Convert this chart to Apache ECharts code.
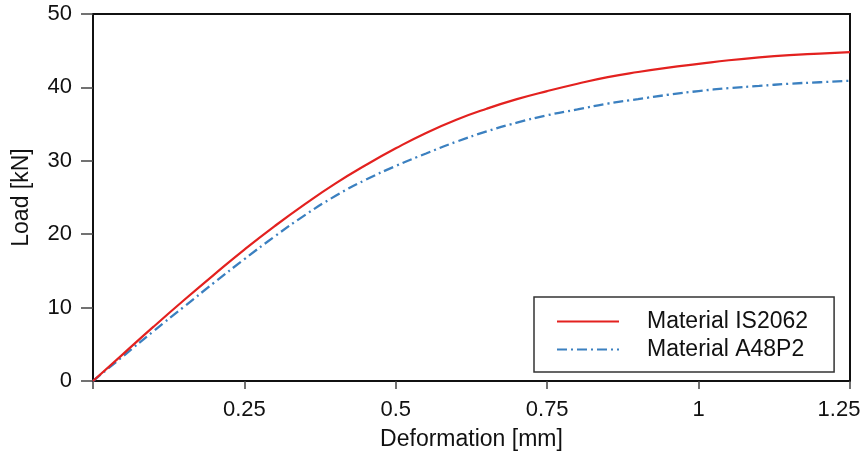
<!DOCTYPE html>
<html>
<head>
<meta charset="utf-8">
<script src="https://cdn.jsdelivr.net/npm/echarts@6/dist/echarts.min.js"></script>
<style>html,body{margin:0;padding:0;background:#fff;}#c{width:864px;height:461px;}</style>
</head>
<body>
<div id="c"></div>
<script>
const deformation = [0,0.05,0.1,0.15,0.2,0.25,0.3,0.35,0.4,0.45,0.5,0.55,0.6,0.65,0.7,0.75,0.8,0.85,0.9,0.95,1.0,1.05,1.1,1.15,1.2,1.25];
const loadIS2062 = [0,3.7,7.4,11.0,14.5,17.9,21.1,24.1,26.9,29.4,31.7,33.8,35.6,37.1,38.4,39.5,40.5,41.4,42.1,42.7,43.2,43.7,44.1,44.4,44.6,44.8];
const loadA48P2 = [0,3.4,6.8,10.1,13.4,16.6,19.7,22.6,25.2,27.4,29.3,31.0,32.6,34.0,35.2,36.2,37.0,37.8,38.4,39.0,39.5,39.9,40.2,40.5,40.7,40.9];
const seriesNames = ['Material IS2062','Material A48P2'];
const xTicks = [0.25,0.5,0.75,1,1.25];

const FONT = 'Liberation Sans, Arial, sans-serif';
const chart = echarts.init(document.getElementById('c'), null, {renderer:'canvas'});
chart.setOption({
  animation:false,
  backgroundColor:'#fff',
  grid:{left:93,right:14,top:14,bottom:80,containLabel:false,outerBoundsMode:'none',
        show:true,borderColor:'#111',borderWidth:2,backgroundColor:'transparent'},
  xAxis:{
    type:'value',min:0,max:1.25,interval:0.25,
    name:'Deformation [mm]',nameLocation:'middle',nameGap:47,
    nameTextStyle:{fontFamily:FONT,fontSize:23,color:'#111'},
    axisLine:{show:true,lineStyle:{color:'#111',width:2}},
    axisTick:{show:true,length:8,lineStyle:{color:'#444',width:1.5}},
    axisLabel:{margin:18,fontFamily:FONT,fontSize:22,color:'#111',
      formatter:function(v){
        if (xTicks.indexOf(v) < 0) return '';
        return v === xTicks[xTicks.length-1] ? '{last|' + v + '}' : String(v);
      },
      rich:{last:{fontFamily:FONT,fontSize:22,color:'#111',padding:[0,22,0,0]}}
    },
    splitLine:{show:false}
  },
  yAxis:{
    type:'value',min:0,max:50,interval:10,
    name:'Load [kN]',nameLocation:'middle',nameGap:60,
    nameTextStyle:{fontFamily:FONT,fontSize:23,color:'#111'},
    axisLine:{show:true,lineStyle:{color:'#111',width:2}},
    axisTick:{show:true,length:12,lineStyle:{color:'#444',width:1.5}},
    axisLabel:{margin:21,fontFamily:FONT,fontSize:22,color:'#111'},
    splitLine:{show:false}
  },
  legend:{
    orient:'vertical',left:534,top:297,
    padding:[13,26,11,22],
    itemWidth:62,itemHeight:14,itemGap:5,
    borderColor:'#333',borderWidth:1.5,
    itemStyle:{opacity:0},
    textStyle:{fontFamily:FONT,fontSize:23,color:'#111',padding:[0,0,0,23]},
    data:seriesNames
  },
  series:[
    {name:seriesNames[0],type:'line',smooth:0.5,symbol:'none',showSymbol:false,
     data:deformation.map((x,i)=>[x,loadIS2062[i]]),
     lineStyle:{color:'#e3211f',width:2.2},itemStyle:{color:'#e3211f'},z:3},
    {name:seriesNames[1],type:'line',smooth:0.5,symbol:'none',showSymbol:false,
     data:deformation.map((x,i)=>[x,loadA48P2[i]]),
     lineStyle:{color:'#3b80c0',width:2.3,type:[10,4,2,4]},itemStyle:{color:'#3b80c0'},z:2}
  ]
});
</script>
</body>
</html>
